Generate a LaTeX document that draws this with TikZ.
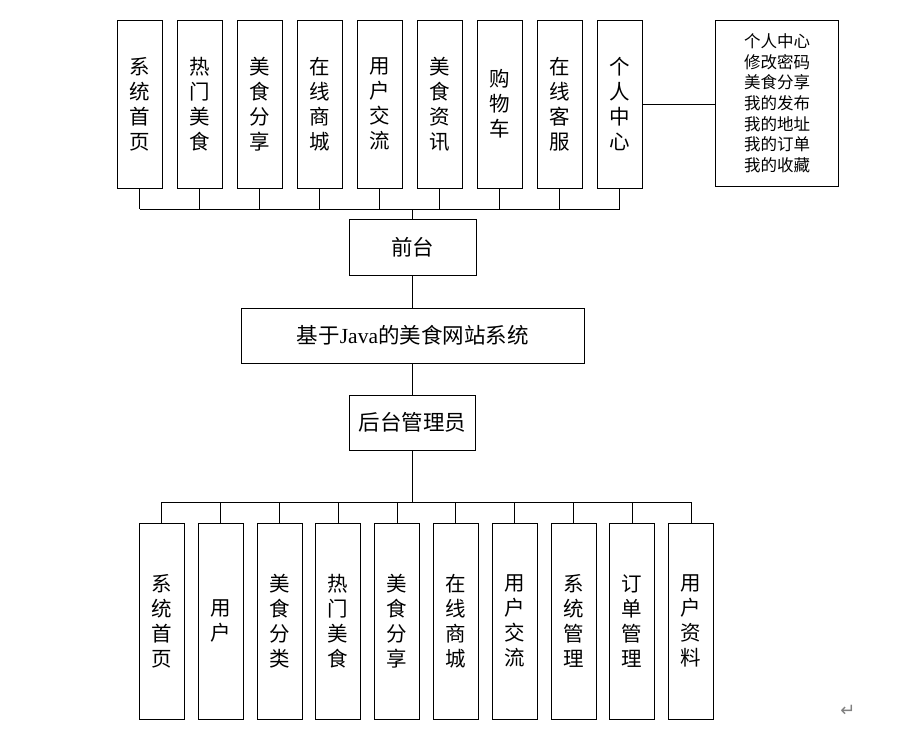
\documentclass[tikz,border=0pt]{standalone}
\usepackage{fontspec}
\setmainfont{Liberation Serif}
\newfontfamily\cjk{Noto Sans CJK SC}
\newfontfamily\symfont{DejaVu Sans}

\tikzset{
    box/.style={draw, line width=0.8pt, inner sep=0pt, align=center},
    colbox/.style={box, minimum width=45pt, font=\cjk\fontsize{20.5}{25}\selectfont},
    topbox/.style={colbox, minimum height=168pt},
    botbox/.style={colbox, minimum height=196pt},
    midbox/.style={box, minimum height=55.5pt, font=\fontsize{21.5}{24}\selectfont},
    link/.style={line width=0.8pt}
}

\begin{document}
\begin{tikzpicture}[x=1pt,y=-1pt]
    \useasboundingbox (0,0) rectangle (922,732);

    % Front-end modules
    \foreach \t [count=\i] in {{系\\统\\首\\页},{热\\门\\美\\食},{美\\食\\分\\享},
        {在\\线\\商\\城},{用\\户\\交\\流},{美\\食\\资\\讯},{购\\物\\车},
        {在\\线\\客\\服},{个\\人\\中\\心}}
        \node[topbox] (top\i) at ({79.8+60*\i},104) {\t};

    % Personal centre details
    \node[box, minimum width=122.6pt, minimum height=166.7pt,
        font=\cjk\fontsize{16.5}{20.6}\selectfont] (info) at (777,103.3)
        {个人中心\\修改密码\\美食分享\\我的发布\\我的地址\\我的订单\\我的收藏};

    % Middle column
    \node[midbox, minimum width=126.7pt] (fore) at (412.7,247.5) {\cjk 前台};
    \node[midbox, minimum width=343.6pt] (java) at (412.7,335.7)
        {{\cjk 基于}Java{\cjk 的美食网站系统}};
    \node[midbox, minimum width=125.7pt] (back) at (412.7,422.8) {\cjk 后台管理员};

    % Back-end modules
    \foreach \t [count=\i] in {{系\\统\\首\\页},{用\\户},{美\\食\\分\\类},
        {热\\门\\美\\食},{美\\食\\分\\享},{在\\线\\商\\城},{用\\户\\交\\流},
        {系\\统\\管\\理},{订\\单\\管\\理},{用\\户\\资\\料}}
        \node[botbox] (bot\i) at ({161.8+58.8*(\i-1)},621.3) {\t};

    % Connectors
    \coordinate (tbus) at (412.7,209);
    \coordinate (bbus) at (412.7,502.3);
    \foreach \i in {1,...,9}
        \draw[link] (top\i.south) -- (top\i.south |- tbus);
    \draw[link] (top1.south |- tbus) -- (top9.south |- tbus);
    \draw[link] (tbus) -- (fore.north);
    \draw[link] (top9.east) -- (top9.east -| info.west);
    \draw[link] (fore.south) -- (java.north);
    \draw[link] (java.south) -- (back.north);
    \draw[line width=1.4pt] (back.south) -- (bbus);
    \draw[link] (bot1.north |- bbus) -- (bot10.north |- bbus);
    \foreach \i in {1,...,10}
        \draw[link] (bot\i.north |- bbus) -- (bot\i.north);

    \node[text=gray, font=\symfont\fontsize{18}{18}\selectfont] (mark) at (848,711) {↵};
\end{tikzpicture}
\end{document}
